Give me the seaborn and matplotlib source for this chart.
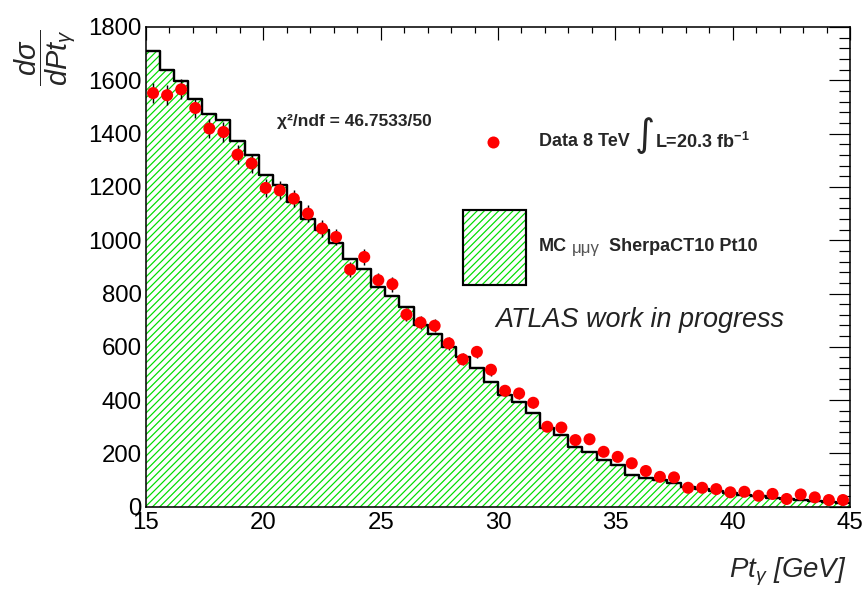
import numpy as np
import matplotlib
matplotlib.use("Agg")
import matplotlib.pyplot as plt
from matplotlib.patches import Rectangle
from matplotlib.lines import Line2D
from matplotlib.ticker import MultipleLocator
import seaborn as sns

# Photon transverse momentum binning (GeV)
pt_low, pt_high, n_bins = 15.0, 45.0, 50

# Measured differential cross section per bin
data_xsec = [1552, 1544, 1566, 1496, 1419, 1406, 1321, 1288, 1196, 1187,
             1156, 1100, 1044, 1012, 890, 937, 850, 835, 721, 691,
             679, 613, 553, 581, 514, 435, 425, 390, 300, 297,
             250, 253, 206, 187, 163, 134, 112, 110, 71, 71,
             66, 54, 56, 41, 48, 29, 46, 35, 25, 25]
data_err = [38, 38, 38, 37, 36, 36, 35, 35, 34, 34,
            33, 32, 31, 31, 29, 30, 28, 28, 26, 26,
            25, 24, 23, 23, 22, 20, 20, 19, 17, 17,
            15, 15, 14, 13, 12, 11, 10, 10, 8, 8,
            8, 7, 7, 6, 6, 5, 6, 5, 4, 4]

# Simulated (Sherpa CT10) prediction per bin
mc_xsec = [1709, 1637, 1599, 1531, 1472, 1450, 1374, 1319, 1243, 1206,
           1143, 1081, 1037, 990, 931, 891, 824, 789, 750, 681,
           647, 599, 562, 519, 468, 419, 394, 350, 295, 268,
           225, 206, 175, 156, 119, 108, 100, 90, 75, 68,
           60, 52, 45, 40, 34, 28, 24, 20, 17, 14]

edges = np.linspace(pt_low, pt_high, n_bins + 1)
centers = 0.5 * (edges[:-1] + edges[1:])
bin_list = edges.tolist()

GREEN = "#00dd00"
HATCH = "////"
DPI = 86.6
W, H = 866, 590

sns.set_style("white")
plt.rcParams["font.family"] = ["Liberation Sans", "DejaVu Sans"]
plt.rcParams["mathtext.fontset"] = "custom"
plt.rcParams["mathtext.rm"] = "Liberation Sans"
plt.rcParams["mathtext.it"] = "Liberation Sans:italic"
plt.rcParams["mathtext.bf"] = "Liberation Sans:bold"
plt.rcParams["hatch.linewidth"] = 1.0


def px(x, y):
    return x / W, 1 - y / H


fig = plt.figure(figsize=(W / DPI, H / DPI), dpi=DPI)
fig.patch.set_facecolor("white")
ax = fig.add_axes([146 / W, 1 - 506.7 / H, (850 - 146) / W, (506.7 - 27) / H])

# hatched MC fill
sns.histplot(x=centers, weights=mc_xsec, bins=bin_list, element="step",
             fill=True, color=GREEN, facecolor="none", edgecolor=GREEN,
             linewidth=0, hatch=HATCH, ax=ax)
# black MC outline
sns.histplot(x=centers, weights=mc_xsec, bins=bin_list, element="step",
             fill=False, color="black", linewidth=2.0, ax=ax)

# data points with statistical errors
ax.errorbar(centers, data_xsec, yerr=data_err, fmt="none", ecolor="black",
            elinewidth=1.2, capsize=0, zorder=4)
sns.scatterplot(x=centers, y=data_xsec, color="#ff0000", s=100,
                edgecolor="none", linewidth=0, ax=ax, zorder=5)

ax.set_xlim(pt_low, pt_high)
ax.set_ylim(0, 1800)
ax.set_xlabel("")
ax.set_ylabel("")
ax.xaxis.set_major_locator(MultipleLocator(5))
ax.xaxis.set_minor_locator(MultipleLocator(1))
ax.yaxis.set_major_locator(MultipleLocator(200))
ax.yaxis.set_minor_locator(MultipleLocator(40))
ax.tick_params(axis="both", which="both", direction="in", top=True, right=True,
               colors="black", width=1.0)
ax.tick_params(axis="y", which="major", length=17.5, pad=3.5, labelsize=20)
ax.tick_params(axis="y", which="minor", length=8.9)
ax.tick_params(axis="x", which="major", length=10.8, pad=4, labelsize=20)
ax.tick_params(axis="x", which="minor", length=5)
for sp in ax.spines.values():
    sp.set_linewidth(1.3)
    sp.set_color("black")

# axis titles
fig.text(*px(45, 58), r"$\dfrac{d\sigma}{dPt_{\gamma}}$", rotation=90,
         ha="center", va="center", fontsize=24)
fig.text(*px(847, 571.7), r"Pt$_{\gamma}$ [GeV]", ha="right", va="center",
         fontsize=23, style="italic")

# fit quality
fig.text(*px(277, 121.7), "χ²/ndf = 46.7533/50", ha="left", va="center",
         fontsize=14.5, fontweight="bold")

# data legend entry
fig.add_artist(Line2D([493 / W], [1 - 141.7 / H], marker="o", markersize=10,
                      color="#ff0000", markeredgewidth=0, linestyle="none"))
fig.text(*px(539, 141.7), "Data 8 TeV", ha="left", va="center",
         fontsize=15, fontweight="bold")
fig.text(*px(645, 136), "∫", ha="center", va="center", fontsize=32,
         family=["DejaVu Sans"])
fig.text(*px(655, 141.7), r"L=20.3 fb$^{\mathbf{-1}}$", ha="left", va="center",
         fontsize=15, fontweight="bold")

# MC legend entry
x0, y0 = px(463.3, 285)
x1, y1 = px(525.7, 210)
fig.add_artist(Rectangle((x0, y0), x1 - x0, y1 - y0, transform=fig.transFigure,
                         facecolor="white", edgecolor=GREEN, linewidth=0,
                         hatch=HATCH))
fig.add_artist(Rectangle((x0, y0), x1 - x0, y1 - y0, transform=fig.transFigure,
                         facecolor="none", edgecolor="black", linewidth=1.8))
fig.text(*px(539, 247), "MC", ha="left", va="center", fontsize=15,
         fontweight="bold")
fig.text(*px(572, 248), "μμγ", ha="left", va="center", fontsize=14,
         color="#555555")
fig.text(*px(609, 247), "SherpaCT10 Pt10", ha="left", va="center",
         fontsize=15, fontweight="bold")

fig.text(*px(495, 320), "ATLAS work in progress", ha="left", va="center",
         fontsize=22.5, style="italic", color="#222222")

fig.savefig("out.png", dpi=DPI, facecolor="white")
